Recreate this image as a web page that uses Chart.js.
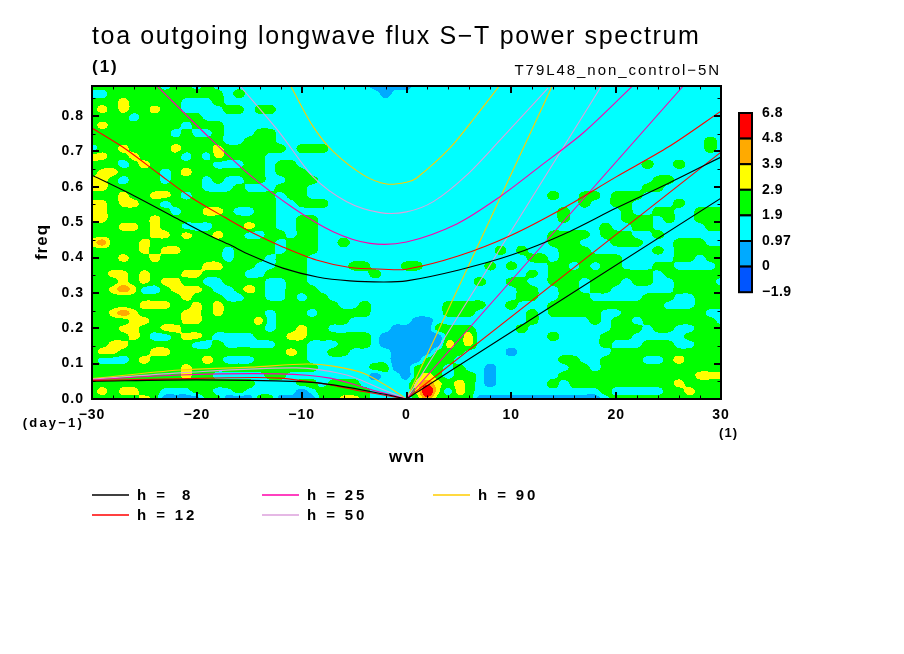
<!DOCTYPE html>
<html><head><meta charset="utf-8">
<style>html,body{margin:0;padding:0;background:#fff}canvas{display:block}</style>
<script src="https://cdn.jsdelivr.net/npm/chart.js@4"></script></head>
<body><canvas id="c" width="904" height="654"></canvas>
<script>
const wvnRange = [-30, 30];
const freqRange = [0, 0.885];
const levelEdges = [-1.9, 0, 0.97, 1.9, 2.9, 3.9, 4.8, 6.8];
const levelLabels = ['-1.9', '0', '0.97', '1.9', '2.9', '3.9', '4.8', '6.8'];
const levelColors = ['#0055ff', '#00aaff', '#00ffff', '#00ff00', '#ffff00', '#ffaa00', '#ff0000'];
const classValues = [0.4, 1.5, 2.4, 3.3, 4.5, 6];
// power class per wavenumber (-30..30, one char each; missing chars = class 1), rows from top freq to 0
const powerRows = [
'2222222122121111111111111110000',
'1122222222222121111111111111011',
'2223222221112111111111111111111',
'2323223221111221221111111111111',
'2222122222211111',
'2322222221222111',
'222222221211211122',
'222222222222211222'+'1111111111111'+'111111111111111111111111111121',
'1223222232223222222'+'1222'+'11111111'+'111111111111111111111111111121',
'33223222212132222',
'22212322222211122122'+'11111111111'+'111111111111111111111121121111',
'233222212322222221222',
'3321222122212112211222'+'111111111'+'111111111111111111111112211111',
'332222222221112111222'+'1111111111'+'111111111111111111111122111111',
'222322332122222222122'+'1111111111'+'111111111111121122122211111111',
'33233221222222222211222'+'11111111'+'111111111111111121122111121111',
'332222221223321122'+'1111111111111'+'111111111111112111112112211222',
'3322223222222222221122'+'111111111'+'111111111111112111112221211222',
'2223323221112223221122'+'111111111'+'111111111111111111211221111122',
'2222223323223221122122'+'111111111'+'111111111111122221222112111111',
'3422232222222222221222112'+'111111'+'111111111111122211122211122211',
'2222232332222122221222'+'111111111'+'111111112121112221111112122222',
'222322322222212221222'+'1111111111'+'111111111112212222221111122122',
'2222222222233222112221111221112'+'211111121211122121221112211112',
'2233232223322221122221111112111'+'111111111112122222222221222222',
'222323233221122221122'+'1111111111'+'111111211221122212221221122221',
'2234311233321123211222'+'111111111'+'111111111122112212211111122222',
'22222222232221122112122'+'11111111'+'111111111122112221111122211222',
'2222233322323222222222221121111'+'111222211211122222222222111222',
'223432222332322221222122222'+'1111'+'111222111112122222112222222211',
'2222332223322222312222222'+'111111'+'001111111112111112122122222221',
'22233223322222222122322'+'11111100'+'002222111121111111122212211222',
'222232112332111122233222222'+'1000'+'000223111111121111222111112222',
'223322222211211111222111222'+'1000'+'000323111111111111211122211222',
'2332223322222222222321122'+'111100'+'002221111011111111122222222222',
'211123222223211122222'+'1111111100'+'022211111111112211222211232222',
'2222222223222222222222'+'111112200'+'222121101111111221222222222222',
'2222222223221111122111111110110'+'232122101111112222222222222333',
'2222222222222222111122122211111'+'343232101111121222222222232222',
'2323322111221121111101222221111'+'353132111111111111211111223222',
'2222232000022000220000223321111'+'242222000000000000122222222222'
];
const igH8 = [[-30,.633],[-26,.575],[-22,.512],[-19,.465],[-17,.438],[-14.9,.407],[-11.8,.37],[-8.5,.345],[-5.4,.334],[-2.2,.331],[0,.334],[5,.365],[10,.407],[15,.466],[20,.54],[25,.61],[30,.684]];
const igH12 = [[-30,.766],[-26.8,.707],[-23.6,.636],[-20.5,.569],[-17.3,.513],[-14.7,.47],[-11.8,.43],[-8.6,.393],[-5.4,.372],[-2.2,.367],[0,.367],[5,.405],[10,.463],[15,.54],[20,.628],[25,.713],[30,.814]];
const igH25 = [[-23.8,.885],[-18.74,.737],[-14.93,.633],[-10.8,.54],[-7,.473],[-3.48,.44],[0,.444],[4.8,.495],[8.92,.572],[12.7,.657],[16.84,.752],[21.5,.883]];
const igH50 = [[-15.88,.885],[-12.07,.752],[-8.9,.628],[-5.7,.558],[-2.5,.527],[0,.529],[2.56,.558],[5.74,.633],[8.92,.732],[13.5,.879]];
const igH90 = [[-11.05,.885],[-8.9,.77],[-7,.7],[-4.1,.633],[-1.9,.608],[0,.613],[0.97,.625],[4.15,.71],[6.7,.803],[8.85,.885]];
const kelvinH8 = [[0,0],[30,.568]];
const kelvinH12 = [[0,0],[30,.698]];
const kelvinH25 = [[0,0],[26.4,.885]];
const kelvinH50 = [[0,0],[18.6,.885]];
const kelvinH90 = [[0,0],[13.9,.885]];
const rossbyH8 = [[-30,.05],[-20,.054],[-10.2,.049],[-7,.04],[-2.2,.014],[0,0]];
const rossbyH12 = [[-30,.052],[-16.8,.06],[-12.1,.059],[-7.3,.04],[-4.1,.021],[0,0]];
const rossbyH25 = [[-30,.054],[-21.6,.068],[-12.1,.071],[-7.3,.059],[-3.2,.025],[0,0]];
const rossbyH50 = [[-30,.056],[-21.6,.074],[-10.5,.088],[-5.7,.068],[-2.5,.03],[0,0]];
const rossbyH90 = [[-30,.058],[-21.6,.082],[-14.9,.09],[-9.5,.099],[-7,.093],[-4.1,.073],[-1.6,.032],[0,0]];
const hLabels = ['h =  8', 'h = 12', 'h = 25', 'h = 50', 'h = 90'];
const hColors = ['#000000', '#ff0000', '#ff00aa', '#dda0dd', '#ffcc00'];
const hCurves = [[igH8,kelvinH8,rossbyH8],[igH12,kelvinH12,rossbyH12],[igH25,kelvinH25,rossbyH25],[igH50,kelvinH50,rossbyH50],[igH90,kelvinH90,rossbyH90]];
const titleText = 'toa outgoing longwave flux S\u2212T power spectrum';
const FONT = '"Liberation Sans", sans-serif';

const datasets = [];
hCurves.forEach((group, h) => group.forEach(curve => datasets.push({
  label: hLabels[h], data: curve.map(p => ({x: p[0], y: p[1]})), showLine: true,
  borderColor: hColors[h], backgroundColor: hColors[h], borderWidth: 1.1, pointRadius: 0,
  tension: 0.3
})));

function text(ctx, s, x, y, font, align, spacing) {
  ctx.font = font + ' ' + FONT;
  ctx.textAlign = align || 'left';
  ctx.textBaseline = 'middle';
  ctx.fillStyle = '#000';
  ctx.letterSpacing = (spacing || 0) + 'px';
  ctx.fillText(s, x, y);
}
function catmull(a, b, c, d, t) {
  return b + 0.5 * t * (c - a + t * (2 * a - 5 * b + 4 * c - d + t * (3 * (b - c) + d - a)));
}
const fieldPlugin = {
  id: 'field',
  beforeDraw(chart) { chart.ctx.letterSpacing = '1px'; },
  beforeDatasetsDraw(chart) {
    const {ctx, chartArea: a, scales: {x, y}} = chart;
    const nr = powerRows.length - 1, nc = 60;
    const val = (r, c) => {
      r = Math.max(0, Math.min(nr, r)); c = Math.max(0, Math.min(nc, c));
      const d = powerRows[r].charCodeAt(c) - 48;
      return classValues[d >= 0 && d < 6 ? d : 1];
    };
    ctx.save();
    for (let py = Math.floor(a.top); py < a.bottom; py++) {
      const fr = (1 - y.getValueForPixel(py + .5) / freqRange[1]) * nr;
      const r0 = Math.max(0, Math.min(nr - 1, Math.floor(fr))), tr = fr - r0;
      let start = Math.floor(a.left), cur = -1;
      for (let px = Math.floor(a.left); px <= a.right; px++) {
        let k = -2;
        if (px < a.right) {
          const fc = (x.getValueForPixel(px + .5) - wvnRange[0]) / (wvnRange[1] - wvnRange[0]) * nc;
          const c0 = Math.max(0, Math.min(nc - 1, Math.floor(fc))), tc = fc - c0;
          const col = j => catmull(val(r0 - 1, c0 + j), val(r0, c0 + j), val(r0 + 1, c0 + j), val(r0 + 2, c0 + j), tr);
          const v = catmull(col(-1), col(0), col(1), col(2), tc);
          k = 0; while (k < levelColors.length - 1 && v >= levelEdges[k + 1]) k++;
        }
        if (k !== cur) {
          if (cur >= 0) { ctx.fillStyle = levelColors[cur]; ctx.fillRect(start, py, px - start, 1); }
          cur = k; start = px;
        }
      }
    }
    ctx.restore();
  },
  afterDraw(chart) {
    const {ctx, chartArea: a, scales: {x, y}} = chart;
    ctx.save();
    ctx.strokeStyle = '#000';
    const seg = (x1, y1, x2, y2, w) => { ctx.lineWidth = w; ctx.beginPath(); ctx.moveTo(x1, y1); ctx.lineTo(x2, y2); ctx.stroke(); };
    x.ticks.forEach(t => {
      const major = t.value % 10 === 0, w = major ? 2 : 1, len = major ? 7 : 3.5;
      const p = Math.round(x.getPixelForValue(t.value)) + (major ? 0 : .5);
      seg(p, a.bottom, p, a.bottom - len, w); seg(p, a.top, p, a.top + len, w);
    });
    y.ticks.forEach(t => {
      const major = Math.round(t.value * 100) % 10 === 0, w = major ? 2 : 1, len = major ? 7 : 3.5;
      const p = Math.round(y.getPixelForValue(t.value)) + (major ? 0 : .5);
      seg(a.left, p, a.left + len, p, w); seg(a.right, p, a.right - len, p, w);
    });
    ctx.lineWidth = 2;
    ctx.strokeRect(a.left, a.top, a.right - a.left, a.bottom - a.top);

    text(ctx, titleText, 92, 37, '25px', 'left', 1.65);
    text(ctx, '(1)', 92, 67, 'bold 17px', 'left', 2);
    text(ctx, 'T79L48_non_control\u22125N', 721, 71, '15px', 'right', 1.95);
    text(ctx, '(day\u22121)', 84, 423, 'bold 13px', 'right', 2.2);
    text(ctx, '(1)', 738, 433, 'bold 13px', 'right', 1);
    text(ctx, 'wvn', 407, 457, 'bold 17px', 'center', 1);
    ctx.save(); ctx.translate(42, 242); ctx.rotate(-Math.PI / 2);
    text(ctx, 'freq', 0, 0, 'bold 17px', 'center', 1); ctx.restore();

    // colour bar
    const barX = 739, barW = 13, barTop = 113, step = 25.6, n = levelColors.length;
    for (let i = 0; i < n; i++) {
      ctx.fillStyle = levelColors[n - 1 - i];
      ctx.fillRect(barX, barTop + i * step, barW, step);
      ctx.strokeStyle = '#000'; ctx.lineWidth = 2;
      ctx.strokeRect(barX, barTop + i * step, barW, step);
    }
    levelLabels.slice().reverse().forEach((s, i) => text(ctx, s.replace('-', '\u2212'), 762, barTop + i * step, 'bold 14px', 'left', 0.5));

    // line legend
    const lx = [92, 92, 262, 262, 433], ly = [495, 515, 495, 515, 495];
    hLabels.forEach((s, i) => {
      ctx.strokeStyle = hColors[i]; ctx.lineWidth = 1.5;
      ctx.beginPath(); ctx.moveTo(lx[i], ly[i]); ctx.lineTo(lx[i] + 37, ly[i]); ctx.stroke();
      text(ctx, s, lx[i] + 45, ly[i] + 1, 'bold 15px', 'left', 2.9);
    });
    ctx.restore();
  }
};
new Chart(document.getElementById('c'), {
  type: 'scatter',
  data: {datasets},
  plugins: [fieldPlugin],
  options: {
    responsive: false, animation: false, devicePixelRatio: 1,
    layout: {padding: {left: 0, top: 86, right: 183, bottom: 0}},
    plugins: {legend: {display: false}, title: {display: false}, tooltip: {enabled: false}},
    scales: {
      x: {
        type: 'linear', min: wvnRange[0], max: wvnRange[1],
        grid: {display: false}, border: {display: false},
        afterFit(s) { s.height = 255; },
        ticks: {stepSize: 2, autoSkip: false, maxRotation: 0, padding: 0, color: '#000',
          font: {family: FONT, size: 14, weight: 'bold'},
          callback: v => v % 10 === 0 ? String(v).replace('-', '\u2212') : ''}
      },
      y: {
        type: 'linear', min: freqRange[0], max: freqRange[1],
        grid: {display: false}, border: {display: false},
        afterFit(s) { s.width = 92; },
        ticks: {stepSize: 0.05, includeBounds: false, autoSkip: false, padding: 0, color: '#000',
          font: {family: FONT, size: 14, weight: 'bold'},
          callback: v => Math.round(v * 100) % 10 === 0 ? v.toFixed(1) : ''}
      }
    }
  }
});
</script></body></html>
